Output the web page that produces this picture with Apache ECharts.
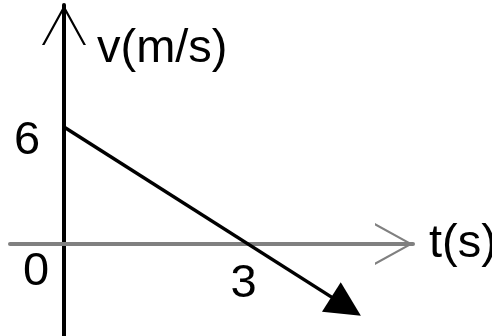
<!DOCTYPE html>
<html>
<head>
<meta charset="utf-8">
<script src="https://cdn.jsdelivr.net/npm/echarts@6/dist/echarts.min.js"></script>
<style>
  html, body { margin: 0; padding: 0; background: #fff; }
  #chart { width: 492px; height: 336px; }
</style>
</head>
<body>
<div id="chart"></div>
<script>
// v–t graph: velocity falls linearly from 6 m/s and crosses zero at t = 3 s
const timeValues = [0, 4.6];        // t (s)
const velocityValues = [6, -3.2];   // v (m/s)
const xTickLabels = [0, 3];         // marked on the t axis
const yTickLabels = [6];            // marked on the v axis
const xAxisName = 't(s)';
const yAxisName = 'v(m/s)';

const FONT = "'Liberation Sans', Arial, sans-serif";
const SIZE = 47;
// open arrow head for the axis ends (points up, rotated along each axis)
const chevron = 'path://M22,0 L44,40 L41.5,40 L22,4.5 L2.5,40 L0,40 Z';

const txt = (extra) => Object.assign({
  fontFamily: FONT, fontSize: SIZE, lineHeight: SIZE, color: '#000',
  textBorderWidth: 0, textShadowBlur: 0
}, extra || {});

// tick numbers are placed beside the axes, hand-lettered style
const xLabelOffset = (t) => (t === 0 ? [-28, 29] : [-4.5, 41]);
const yLabelOffset = () => [-37, 15];
const tickMarks = [
  ...xTickLabels.map((t) => ({ value: [t, 0, String(t)], label: { offset: xLabelOffset(t) } })),
  ...yTickLabels.map((v) => ({ value: [0, v, String(v)], label: { offset: yLabelOffset(v) } }))
];

const chart = echarts.init(document.getElementById('chart'), null, { renderer: 'canvas' });

chart.setOption({
  animation: false,
  backgroundColor: '#fff',
  grid: { left: 10, right: 79, top: 5, bottom: 0, containLabel: false, outerBoundsMode: 'none' },
  xAxis: {
    type: 'value',
    min: -0.88,
    max: 5.69,
    name: xAxisName,
    nameLocation: 'end',
    nameGap: 16,
    nameTextStyle: txt({ align: 'left', verticalAlign: 'middle', padding: [0, 0, 6, 0] }),
    axisLine: {
      onZero: true,
      symbol: ['none', chevron],
      symbolSize: [44, 38],
      symbolOffset: [0, -19],
      lineStyle: { color: '#808080', width: 4 }
    },
    axisTick: { show: false },
    splitLine: { show: false },
    axisLabel: { show: false }
  },
  yAxis: {
    type: 'value',
    min: -4.72,
    max: 12.26,
    name: yAxisName,
    nameLocation: 'end',
    nameGap: -44,
    nameTextStyle: txt({ align: 'left', verticalAlign: 'middle', padding: [0, 0, 0, 33] }),
    axisLine: {
      onZero: true,
      symbol: ['none', chevron],
      symbolSize: [44, 40],
      symbolOffset: [0, -20],
      lineStyle: { color: '#000', width: 4 }
    },
    axisTick: { show: false },
    splitLine: { show: false },
    axisLabel: { show: false }
  },
  series: [{
    type: 'lines',
    coordinateSystem: 'cartesian2d',
    silent: true,
    z: 5,
    polyline: false,
    symbol: ['none', 'triangle'],
    symbolSize: 35,
    itemStyle: { color: '#000' },
    lineStyle: { color: '#000', width: 3.5, opacity: 1, curveness: 0 },
    data: [{ coords: timeValues.map((t, i) => [t, velocityValues[i]]) }]
  }, {
    type: 'scatter',
    silent: true,
    z: 6,
    symbol: 'circle',
    symbolSize: 1,
    itemStyle: { color: '#fff', opacity: 0 },
    label: Object.assign({
      show: true,
      position: 'top',
      distance: 0,
      align: 'center',
      verticalAlign: 'middle',
      opacity: 1,
      formatter: (p) => p.value[2]
    }, txt()),
    data: tickMarks
  }]
});
</script>
</body>
</html>
